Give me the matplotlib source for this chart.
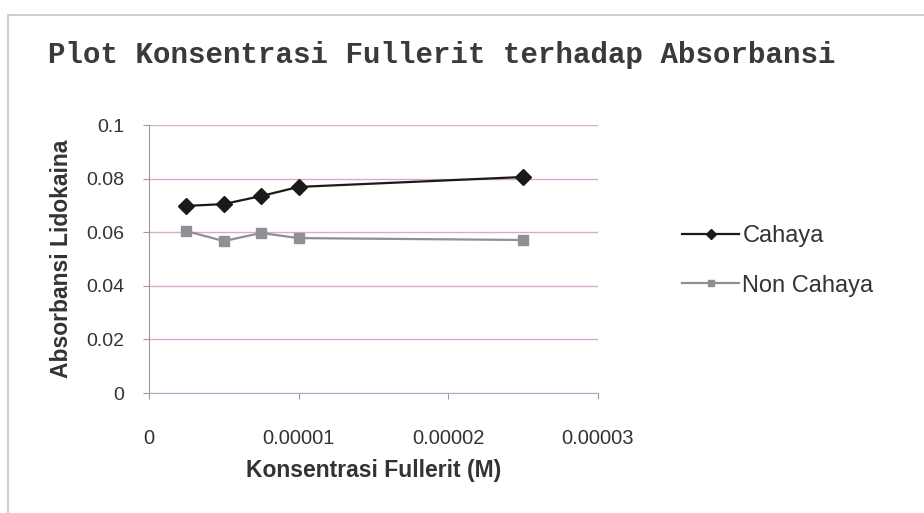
import matplotlib
matplotlib.use("Agg")
import matplotlib.pyplot as plt
from matplotlib.patches import Rectangle

# konsentrasi fullerit (M) dan absorbansi lidokaina
konsentrasi = [2.5e-6, 5.0e-6, 7.5e-6, 1.0e-5, 2.5e-5]
cahaya = [0.0698, 0.0705, 0.0735, 0.0769, 0.0806]
non_cahaya = [0.0604, 0.0567, 0.0597, 0.0578, 0.0571]

xticks = [0, 0.00001, 0.00002, 0.00003]
xtick_labels = ['0', '0.00001', '0.00002', '0.00003']
yticks = [0, 0.02, 0.04, 0.06, 0.08, 0.1]
ytick_labels = ['0', '0.02', '0.04', '0.06', '0.08', '0.1']

plt.rcParams['font.family'] = ['Liberation Sans', 'DejaVu Sans']

fig = plt.figure(figsize=(9.24, 5.13), dpi=100)
fig.patch.set_facecolor('white')

# chart frame
fig.patches.append(Rectangle((0.009, -0.05), 1.2, 1.02, transform=fig.transFigure,
                             fill=False, edgecolor='#c8c4d0', linewidth=1.2))

ax = fig.add_axes([149/924, 1 - 393/513, (598 - 149)/924, (393 - 125)/513])
ax.plot(konsentrasi, cahaya, color='#1a1a1a', marker='D', markersize=8,
        linewidth=1.6, label='Cahaya')
ax.plot(konsentrasi, non_cahaya, color='#8f8f94', marker='s', markersize=7.5,
        linewidth=1.6, label='Non Cahaya')

ax.set_xlim(0, 0.00003)
ax.set_ylim(0, 0.1)
ax.set_xticks(xticks)
ax.set_xticklabels(xtick_labels, fontsize=14.5, color='#333333')
ax.set_yticks(yticks)
ax.set_yticklabels(ytick_labels, fontsize=14, color='#333333')
ax.tick_params(axis='x', length=4, pad=22, color='#999999')
ax.tick_params(axis='y', length=4, pad=14, color='#999999')
ax.grid(axis='y', color='#d9a9d4', linewidth=1.0)
ax.set_axisbelow(True)
for side in ['top', 'right']:
    ax.spines[side].set_visible(False)
ax.spines['left'].set_color('#999999')
ax.spines['bottom'].set_color('#b0a8c8')

ax.set_xlabel('Konsentrasi Fullerit (M)', fontsize=16.5, fontweight='bold',
              color='#333333', labelpad=8)
ax.set_ylabel('Absorbansi Lidokaina', fontsize=16.5, fontweight='bold',
              color='#333333', labelpad=9)

fig.text(48/924, 1 - 55/513, 'Plot Konsentrasi Fullerit terhadap Absorbansi',
         family=['Liberation Mono', 'DejaVu Sans Mono'], fontsize=21,
         fontweight='bold', color='#3a3a3a', va='center', ha='left')

fig.legend(loc='center left', bbox_to_anchor=(661/924, 1 - 261/513),
           frameon=False, fontsize=17, handlelength=2.4, labelspacing=1.15,
           handletextpad=0.15, markerscale=0.6, labelcolor='#333333')

fig.savefig('out.png', dpi=100)
